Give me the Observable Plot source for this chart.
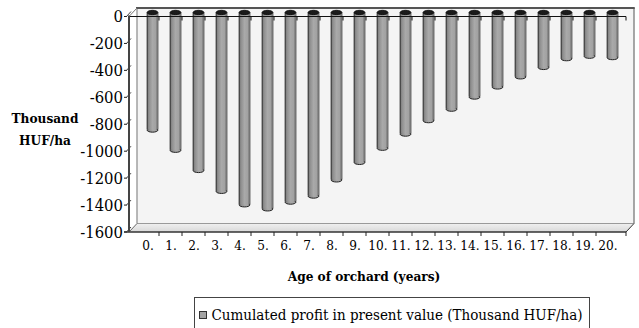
<!DOCTYPE html>
<html><head><meta charset="utf-8">
<script src="https://cdn.jsdelivr.net/npm/d3@7"></script>
<script src="https://cdn.jsdelivr.net/npm/@observablehq/plot@0.6"></script>
<style>
  body { margin: 0; background: #fff; width: 639px; height: 328px; overflow: hidden; font-family: "DejaVu Serif Condensed", "DejaVu Serif", serif; font-stretch: condensed; position: relative; }
  #chart svg, #chart svg text { font-stretch: condensed; }
  #chart svg [aria-label^="y-axis"] text { font-size: 16.5px; }
  #legend { position: absolute; left: 194px; top: 297px; width: 396px; height: 36px; box-sizing: border-box; border: 1px solid #444; display: flex; align-items: center; font-size: 15px; color: #000; white-space: nowrap; }
  #legend .sw { flex: 0 0 auto; width: 8px; height: 8px; box-sizing: border-box; border: 1px solid #333; background: #a4a4a4; margin-left: 4px; margin-right: 4.5px; }
</style>
</head><body>
<div id="chart"></div>
<div id="legend"><span class="sw"></span><span>Cumulated profit in present value (Thousand HUF/ha)</span></div>
<script>
const years = ["0.","1.","2.","3.","4.","5.","6.","7.","8.","9.","10.","11.","12.","13.","14.","15.","16.","17.","18.","19.","20."];
const values = [-870, -1020, -1170, -1325, -1425, -1455, -1405, -1360, -1240, -1110, -1005, -900, -800, -715, -625, -550, -475, -405, -340, -322, -332];
const yTicks = [-1600, -1400, -1200, -1000, -800, -600, -400, -200, 0];
const seriesName = "Cumulated profit in present value (Thousand HUF/ha)";
const yTitle = "Thousand\nHUF/ha";
const xTitle = "Age of orchard (years)";

const data = years.map((year, i) => ({year, value: values[i]}));

const DX = 8, DY = -8.5;
const BX = 4.5, BY = -4;
const RX = 5.35;

function ellipse(rx, ry) {
  const k = 0.5523;
  return {
    draw(ctx) {
      ctx.moveTo(rx, 0);
      ctx.bezierCurveTo(rx, ry * k, rx * k, ry, 0, ry);
      ctx.bezierCurveTo(-rx * k, ry, -rx, ry * k, -rx, 0);
      ctx.bezierCurveTo(-rx, -ry * k, -rx * k, -ry, 0, -ry);
      ctx.bezierCurveTo(rx * k, -ry, rx, -ry * k, rx, 0);
      ctx.closePath();
    }
  };
}

function line(g, x1, y1, x2, y2, stroke, w) {
  g.append("line").attr("x1", x1).attr("y1", y1).attr("x2", x2).attr("y2", y2)
    .attr("stroke", stroke).attr("stroke-width", w);
}

function walls(index, scales, vals, dims) {
  const y = scales.y;
  const x0 = dims.marginLeft, x1 = dims.width - dims.marginRight;
  const yT = y(d3.max(yTicks)), yB = y(d3.min(yTicks));
  const g = d3.create("svg:g");
  const defs = g.append("defs");
  const gr = defs.append("linearGradient").attr("id", "barGrad").attr("x1", 0).attr("x2", 1).attr("y1", 0).attr("y2", 0);
  [[0, "#6f6f6f"], [0.2, "#8e8e8e"], [0.55, "#a9a9a9"], [0.85, "#a2a2a2"], [1, "#7c7c7c"]]
    .forEach(([o, c]) => gr.append("stop").attr("offset", o).attr("stop-color", c));
  const fg = defs.append("linearGradient").attr("id", "floorGrad").attr("x1", 0).attr("x2", 0).attr("y1", 0).attr("y2", 1);
  fg.append("stop").attr("offset", 0).attr("stop-color", "#f0f0f0");
  fg.append("stop").attr("offset", 1).attr("stop-color", "#d8d8d8");
  g.append("rect").attr("x", x0 + DX).attr("y", yT + DY).attr("width", x1 - x0).attr("height", yB - yT)
    .attr("fill", "#f4f4f4");
  g.append("path").attr("d", `M${x0},${yB}L${x1},${yB}L${x1 + DX},${yB + DY}L${x0 + DX},${yB + DY}Z`)
    .attr("fill", "url(#floorGrad)");
  line(g, x0 + DX, yB + DY, x1 + DX, yB + DY, "#9a9a9a", 1);
  line(g, x0 + DX, yT + DY, x0 + DX, yB + DY, "#a0a0a0", 1.5);
  line(g, x1 + DX, yT + DY, x1 + DX, yB + DY, "#8a8a8a", 1.5);
  line(g, x0 + DX - 1, yT + DY, x1 + DX + 0.75, yT + DY, "#555", 2);
  line(g, x0, yT, x0 + DX, yT + DY, "#777", 1);
  line(g, x0, yB, x0 + DX, yB + DY, "#666", 1);
  line(g, x1, yB, x1 + DX, yB + DY, "#333", 1);
  for (const t of yTicks) {
    const yy = y(t);
    line(g, x0 - 5, yy, x0 - 2, yy, "#222", 1);
    line(g, x0 - 2.5, yy, x0 + 2, yy - 5, "#444", 1);
  }
  return g.node();
}

function frontAxes(index, scales, vals, dims) {
  const {x, y} = scales;
  const x0 = dims.marginLeft, x1 = dims.width - dims.marginRight;
  const yT = y(d3.max(yTicks)), yB = y(d3.min(yTicks));
  const g = d3.create("svg:g");
  line(g, x0, yT, x1, yT, "#111", 1.2);
  line(g, x0 - 5, yB, x1, yB, "#333", 1.3);
  const bounds = years.map(c => x(c)).concat([x1]);
  for (const xb of bounds.slice(1)) {
    line(g, xb, yT, xb, yT + 4, "#111", 1);
    line(g, xb, yB, xb, yB + 4, "#222", 1);
  }
  line(g, x0, yT - 1, x0, yB, "#444", 2);
  return g.node();
}

const serif = '"DejaVu Serif Condensed", "DejaVu Serif", serif';
const plot = Plot.plot({
  width: 639,
  height: 292,
  marginLeft: 129,
  marginRight: 13,
  marginTop: 16.5,
  marginBottom: 60,
  style: {fontFamily: serif, fontSize: "16.5px", background: "#fff", color: "#000"},
  x: {type: "band", domain: years, padding: 0, axis: null},
  y: {domain: [d3.min(yTicks), d3.max(yTicks)], nice: false, ticks: yTicks, tickFormat: d => String(d), tickSize: 0, tickPadding: 6.5, label: null},
  marks: [
    walls,
    Plot.dot(data, {x: "year", y: "value", symbol: ellipse(RX, 2), r: 3, fill: "url(#barGrad)", stroke: "#222", strokeWidth: 1, dx: BX, dy: BY}),
    Plot.barY(data, {x: "year", y: "value", fill: "url(#barGrad)", insetLeft: 6.48, insetRight: 6.48, dx: BX, dy: BY}),
    Plot.ruleX(data, {x: "year", y1: 0, y2: "value", dx: BX - RX, dy: BY, stroke: "#333", strokeWidth: 1}),
    Plot.ruleX(data, {x: "year", y1: 0, y2: "value", dx: BX + RX, dy: BY, stroke: "#333", strokeWidth: 1}),
    Plot.dot(data, {x: "year", y: d => 0, symbol: ellipse(RX, 2.2), r: 3, fill: "#1a1a1a", stroke: "#000", strokeWidth: 0.8, dx: BX, dy: BY - 0.5}),
    frontAxes,
    Plot.text(years, {x: d => d, text: d => d, frameAnchor: "bottom", dy: 17, fontSize: 13.5, fill: "#000"}),
    Plot.text([xTitle], {text: d => d, frameAnchor: "bottom", dx: -14, dy: 48, fontSize: 13.5, fontWeight: "bold", fill: "#000"}),
    Plot.text([yTitle], {text: d => d, frameAnchor: "left", dx: -84.5, dy: 2, textAnchor: "middle", fontSize: 13.5, fontWeight: "bold", lineHeight: 1.65, fill: "#000"})
  ]
});
document.getElementById("chart").appendChild(plot);
</script>
</body></html>
